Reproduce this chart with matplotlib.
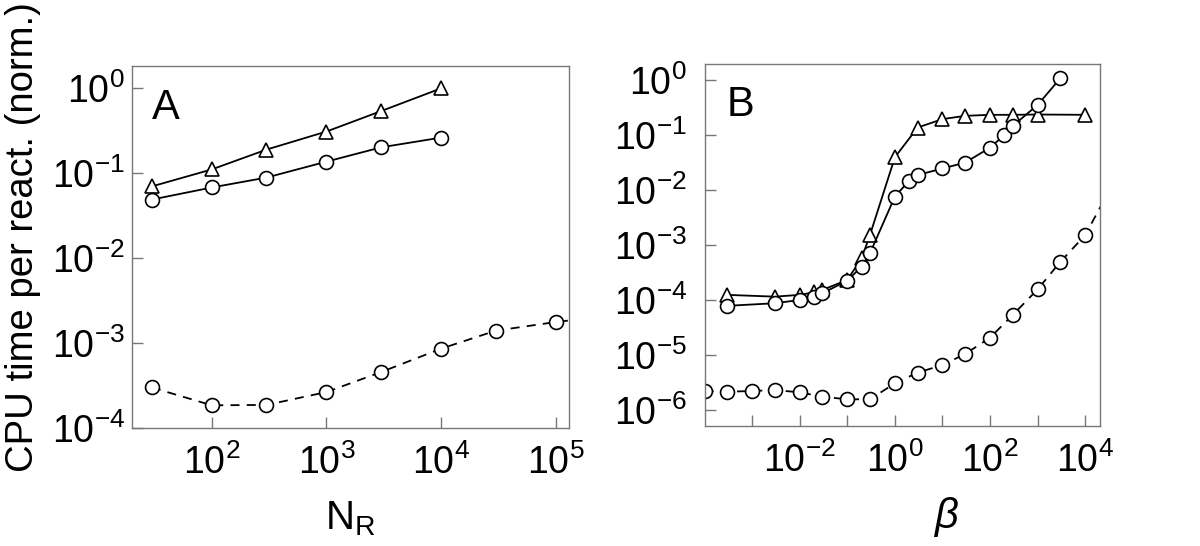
import matplotlib
matplotlib.use("Agg")
import matplotlib.pyplot as plt
import numpy as np
from matplotlib.ticker import FixedLocator, FuncFormatter, NullLocator

plt.rcParams['font.family'] = ['Liberation Sans', 'DejaVu Sans']
plt.rcParams['mathtext.fontset'] = 'custom'
plt.rcParams['mathtext.rm'] = 'Liberation Sans'
plt.rcParams['mathtext.it'] = 'Liberation Sans:italic'
plt.rcParams['mathtext.default'] = 'regular'

# ---------------- Panel A data ----------------
nr_top = [30, 100, 300, 1000, 3000, 10000]
a_triangles = [0.070, 0.111, 0.19, 0.31, 0.54, 1.0]
a_circles = [0.049, 0.068, 0.089, 0.137, 0.202, 0.263]
nr_dashed = [30, 100, 300, 1000, 3000, 10000, 30000, 100000, 300000]
a_dashed = [3.0e-4, 1.85e-4, 1.87e-4, 2.65e-4, 4.56e-4, 8.6e-4, 1.40e-3, 1.77e-3, 2.1e-3]

# ---------------- Panel B data ----------------
beta_tri = [3e-4, 3e-3, 0.01, 0.02, 0.03, 0.1, 0.2, 0.3, 1, 3, 10, 30, 100, 300, 1000, 10000]
b_triangles = [1.25e-4, 1.16e-4, 1.25e-4, 1.39e-4, 1.54e-4, 2.34e-4, 5.8e-4, 1.55e-3,
               0.040, 0.139, 0.198, 0.227, 0.237, 0.237, 0.24, 0.237]
beta_circ = [3e-4, 3e-3, 0.01, 0.02, 0.03, 0.1, 0.2, 0.3, 1, 2, 3, 10, 30, 100, 200, 300, 1000, 3000]
b_circles = [7.9e-5, 8.8e-5, 1.01e-4, 1.13e-4, 1.34e-4, 2.27e-4, 4.1e-4, 7.2e-4,
             7.7e-3, 0.015, 0.019, 0.025, 0.032, 0.060, 0.102, 0.149, 0.36, 1.10]
beta_dashed = [1e-4, 3e-4, 1e-3, 3e-3, 0.01, 0.03, 0.1, 0.3, 1, 3, 10, 30, 100, 300,
               1000, 3000, 10000, 30000]
b_dashed = [2.22e-6, 2.16e-6, 2.22e-6, 2.32e-6, 2.1e-6, 1.75e-6, 1.57e-6, 1.57e-6,
            3.07e-6, 4.8e-6, 6.6e-6, 1.05e-5, 2.08e-5, 5.4e-5, 1.58e-4, 5.0e-4, 1.54e-3, 9e-3]

panel_labels = ["A", "B"]
ylabel_text = "CPU time per react. (norm.)"

fig = plt.figure(figsize=(12, 5.46), dpi=100)
axA = fig.add_axes([0.1098, 0.2161, 0.3644, 0.663])
axB = fig.add_axes([0.5875, 0.2198, 0.3292, 0.663])

frame_col = '#777777'
line_kw = dict(color='black', lw=1.3, mfc='white', mec='black', mew=1.2)


def fmt(v, pos):
    e = int(round(np.log10(v)))
    s = str(e).replace('-', '\u2212')
    return r'$10^{%s}$' % s


def fmt_even(v, pos):
    e = int(round(np.log10(v)))
    if e % 2 != 0:
        return ''
    return fmt(v, pos)


for ax in (axA, axB):
    ax.set_xscale('log')
    ax.set_yscale('log')
    for sp in ax.spines.values():
        sp.set_color(frame_col)
        sp.set_linewidth(1.0)
    ax.tick_params(which='both', direction='in', colors=frame_col, labelcolor='black',
                   labelsize=27, length=8, width=1.0, top=False, right=False)
    ax.xaxis.set_minor_locator(NullLocator())
    ax.yaxis.set_minor_locator(NullLocator())

# Panel A
axA.plot(nr_top, a_triangles, marker='^', ms=10, **line_kw)
axA.plot(nr_top, a_circles, marker='o', ms=10, **line_kw)
axA.plot(nr_dashed, a_dashed, marker='o', ms=10, ls=(0, (5, 4)), **line_kw)
axA.set_xlim(10 ** 1.302, 10 ** 5.116)
axA.set_ylim(1e-4, 10 ** 0.263)
axA.xaxis.set_major_locator(FixedLocator([1e2, 1e3, 1e4, 1e5]))
axA.yaxis.set_major_locator(FixedLocator([1e-4, 1e-3, 1e-2, 1e-1, 1e0]))
axA.xaxis.set_major_formatter(FuncFormatter(fmt))
axA.yaxis.set_major_formatter(FuncFormatter(fmt))
axA.tick_params(axis='x', pad=12)
axA.tick_params(axis='y', pad=5)
axA.set_xlabel(r'N$_\mathregular{R}$', fontsize=29, labelpad=12)

# Panel B
axB.plot(beta_tri, b_triangles, marker='^', ms=10, **line_kw)
axB.plot(beta_circ, b_circles, marker='o', ms=10, **line_kw)
axB.plot(beta_dashed, b_dashed, marker='o', ms=10, ls=(0, (5, 4)), **line_kw)
axB.set_xlim(10 ** -3.99, 10 ** 4.31)
axB.set_ylim(10 ** -6.29, 10 ** 0.30)
axB.xaxis.set_major_locator(FixedLocator([10.0 ** k for k in range(-3, 5)]))
axB.yaxis.set_major_locator(FixedLocator([10.0 ** k for k in range(-6, 1)]))
axB.xaxis.set_major_formatter(FuncFormatter(fmt_even))
axB.yaxis.set_major_formatter(FuncFormatter(fmt))
axB.tick_params(axis='x', pad=12)
axB.tick_params(axis='y', pad=13)
axB.set_xlabel(r'$\it{\beta}$', fontsize=30, labelpad=4)
axB.xaxis.set_label_coords(0.61, -0.19)

axA.text(0.045, 0.855, panel_labels[0], transform=axA.transAxes, fontsize=30, va='baseline')
axB.text(0.055, 0.855, panel_labels[1], transform=axB.transAxes, fontsize=30, va='baseline')

fig.text(0.019, 0.566, ylabel_text, rotation=90, fontsize=27.5, va='center', ha='center')

fig.savefig('out.png', dpi=100, facecolor='white')
